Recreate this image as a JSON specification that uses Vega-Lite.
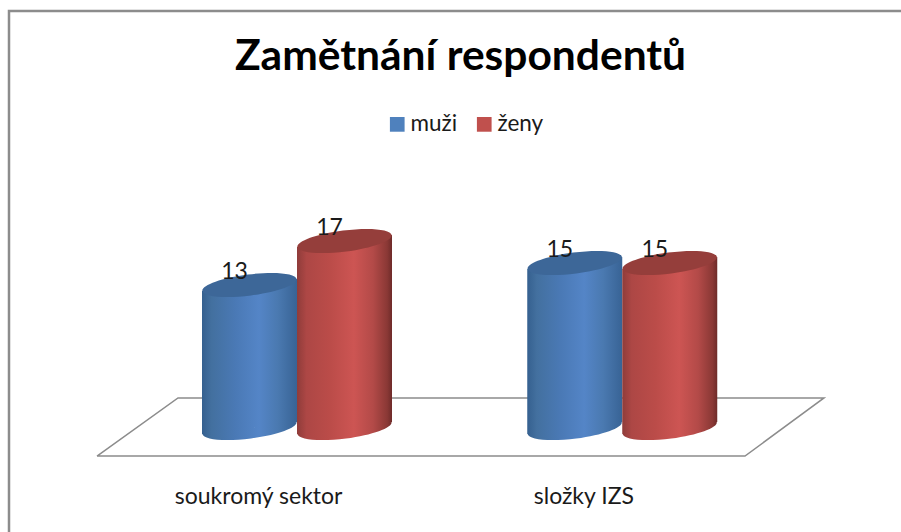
{
"$schema":"https://vega.github.io/schema/vega-lite/v6.json",
"width":895,"height":524,
"autosize":{"type":"none"},
"padding":{"left":9,"top":11,"right":0,"bottom":0},
"background":"white",
"config":{"view":{"stroke":"#8c8c8c","strokeWidth":2.5},"font":"Lato"},
"title":{"text":"Zamětnání respondentů","font":"Lato","fontWeight":"bold","fontSize":42.5,"color":"#000000","anchor":"middle","baseline":"middle","offset":-88,"dx":4},
"datasets":{
"bars":[
{"sektor":"soukromý sektor","pohlaví":"muži","počet":13},
{"sektor":"soukromý sektor","pohlaví":"ženy","počet":17},
{"sektor":"složky IZS","pohlaví":"muži","počet":15},
{"sektor":"složky IZS","pohlaví":"ženy","počet":15}],
"floor":[
{"a":97,"b":-2.55,"o":1},{"a":745,"b":-2.55,"o":2},{"a":824,"b":2.73,"o":3},{"a":178,"b":2.73,"o":4},{"a":97,"b":-2.55,"o":5}]
},
"resolve":{"scale":{"x":"independent"}},
"layer":[
{"data":{"name":"floor"},
 "mark":{"type":"line","stroke":"#8c8c8c","strokeWidth":1.5},
 "encoding":{
  "x":{"field":"a","type":"quantitative","scale":{"domain":[9,904],"nice":false,"zero":false},"axis":null},
  "y":{"field":"b","type":"quantitative","scale":{"domain":[-9.727,37.909],"nice":false,"zero":false},"axis":null},
  "order":{"field":"o"}}},
{"data":{"name":"bars"},"transform":[{"filter":"datum['pohlaví']=='muži'"}],
 "encoding":{
  "x":{"field":"sektor","type":"nominal","scale":{"type":"band","domain":["soukromý sektor","složky IZS"],"range":[125,775.5],"padding":0},"axis":null},
  "xOffset":{"field":"pohlaví","type":"nominal","scale":{"domain":["muži","ženy"],"range":[68,258],"padding":0}},
  "y":{"field":"počet","type":"quantitative","stack":null,"scale":{"domain":[-9.727,37.909],"nice":false,"zero":false},"axis":null}},
 "layer":[
  {"mark":{"type":"bar","yOffset":6,"y2Offset":-6,"fill":{"gradient":"linear","x1":0,"y1":0,"x2":1,"y2":0,"stops":[{"offset":0,"color":"#35608f"},{"offset":0.1,"color":"#43709f"},{"offset":0.35,"color":"#4a79b5"},{"offset":0.6,"color":"#5485c7"},{"offset":0.8,"color":"#4a79b0"},{"offset":1,"color":"#386395"}]}},
   "encoding":{"y2":{"datum":0}}},
  {"mark":{"type":"point","filled":true,"opacity":1,"size":9025,"shape":"M -1 -0.128 L 1 -0.128 L -1 0.128 Z M -0.992 0.128 A 1 0.223 -7.3 1 1 0.992 -0.128 A 1 0.223 -7.3 1 1 -0.992 0.128 Z","fill":{"gradient":"linear","x1":0,"y1":0,"x2":1,"y2":0,"stops":[{"offset":0,"color":"#35608f"},{"offset":0.1,"color":"#43709f"},{"offset":0.35,"color":"#4a79b5"},{"offset":0.6,"color":"#5485c7"},{"offset":0.8,"color":"#4a79b0"},{"offset":1,"color":"#386395"}]}},
   "encoding":{"y":{"datum":0,"type":"quantitative"}}},
  {"mark":{"type":"point","filled":true,"opacity":1,"size":9025,"shape":"M -1 0.128 L 1 -0.128 L 1 0.128 Z","fill":{"gradient":"linear","x1":0,"y1":0,"x2":1,"y2":0,"stops":[{"offset":0,"color":"#35608f"},{"offset":0.1,"color":"#43709f"},{"offset":0.35,"color":"#4a79b5"},{"offset":0.6,"color":"#5485c7"},{"offset":0.8,"color":"#4a79b0"},{"offset":1,"color":"#386395"}]}}},
  {"mark":{"type":"point","filled":true,"opacity":1,"size":9025,"fill":"#3d6798","shape":"M -0.992 0.128 A 1 0.223 -7.3 1 1 0.992 -0.128 A 1 0.223 -7.3 1 1 -0.992 0.128 Z"}}
 ]},
{"data":{"name":"bars"},"transform":[{"filter":"datum['pohlaví']=='ženy'"}],
 "encoding":{
  "x":{"field":"sektor","type":"nominal","scale":{"type":"band","domain":["soukromý sektor","složky IZS"],"range":[125,775.5],"padding":0},"axis":null},
  "xOffset":{"field":"pohlaví","type":"nominal","scale":{"domain":["muži","ženy"],"range":[68,258],"padding":0}},
  "y":{"field":"počet","type":"quantitative","stack":null,"scale":{"domain":[-9.727,37.909],"nice":false,"zero":false},"axis":null}},
 "layer":[
  {"mark":{"type":"bar","yOffset":6,"y2Offset":-6,"fill":{"gradient":"linear","x1":0,"y1":0,"x2":1,"y2":0,"stops":[{"offset":0,"color":"#8f3c3a"},{"offset":0.1,"color":"#ad4745"},{"offset":0.35,"color":"#bb4c49"},{"offset":0.6,"color":"#cd5553"},{"offset":0.8,"color":"#b34a48"},{"offset":0.95,"color":"#8a3835"},{"offset":1,"color":"#6e2b29"}]}},
   "encoding":{"y2":{"datum":0}}},
  {"mark":{"type":"point","filled":true,"opacity":1,"size":9025,"shape":"M -1 -0.128 L 1 -0.128 L -1 0.128 Z M -0.992 0.128 A 1 0.223 -7.3 1 1 0.992 -0.128 A 1 0.223 -7.3 1 1 -0.992 0.128 Z","fill":{"gradient":"linear","x1":0,"y1":0,"x2":1,"y2":0,"stops":[{"offset":0,"color":"#8f3c3a"},{"offset":0.1,"color":"#ad4745"},{"offset":0.35,"color":"#bb4c49"},{"offset":0.6,"color":"#cd5553"},{"offset":0.8,"color":"#b34a48"},{"offset":0.95,"color":"#8a3835"},{"offset":1,"color":"#6e2b29"}]}},
   "encoding":{"y":{"datum":0,"type":"quantitative"}}},
  {"mark":{"type":"point","filled":true,"opacity":1,"size":9025,"shape":"M -1 0.128 L 1 -0.128 L 1 0.128 Z","fill":{"gradient":"linear","x1":0,"y1":0,"x2":1,"y2":0,"stops":[{"offset":0,"color":"#8f3c3a"},{"offset":0.1,"color":"#ad4745"},{"offset":0.35,"color":"#bb4c49"},{"offset":0.6,"color":"#cd5553"},{"offset":0.8,"color":"#b34a48"},{"offset":0.95,"color":"#8a3835"},{"offset":1,"color":"#6e2b29"}]}}},
  {"mark":{"type":"point","filled":true,"opacity":1,"size":9025,"fill":"#953e3b","shape":"M -0.992 0.128 A 1 0.223 -7.3 1 1 0.992 -0.128 A 1 0.223 -7.3 1 1 -0.992 0.128 Z"}}
 ]},
{"data":{"name":"bars"},
 "mark":{"type":"text","font":"Lato","fontSize":23,"color":"#1a1a1a","dx":-15,"dy":-13,"baseline":"middle"},
 "encoding":{
  "x":{"field":"sektor","type":"nominal","scale":{"type":"band","domain":["soukromý sektor","složky IZS"],"range":[125,775.5],"padding":0},
   "axis":{"title":null,"domain":false,"ticks":false,"grid":false,"labelAngle":0,"labelFont":"Lato","labelFontSize":23,"labelColor":"#1a1a1a","labelOffset":-38,"offset":-39,"labelPadding":0,"labelBaseline":"middle"}},
  "xOffset":{"field":"pohlaví","type":"nominal","scale":{"domain":["muži","ženy"],"range":[68,258],"padding":0}},
  "y":{"field":"počet","type":"quantitative","stack":null,"scale":{"domain":[-9.727,37.909],"nice":false,"zero":false},"axis":null},
  "text":{"field":"počet","type":"quantitative"}}},
{"data":{"name":"bars"},
 "mark":{"type":"point","filled":true,"opacity":0},
 "encoding":{
  "x":{"field":"sektor","type":"nominal","scale":{"type":"band","domain":["soukromý sektor","složky IZS"],"range":[125,775.5],"padding":0},"axis":null},
  "y":{"field":"počet","type":"quantitative","scale":{"domain":[-9.727,37.909],"nice":false,"zero":false},"axis":null},
  "color":{"field":"pohlaví","type":"nominal","scale":{"domain":["muži","ženy"],"range":["#4f81bd","#c0504d"]},
   "legend":{"title":null,"orient":"none","legendX":377,"legendY":102,"direction":"horizontal","columns":2,"columnPadding":15,"labelOffset":2,"symbolType":"square","symbolSize":216,"symbolOpacity":1,"symbolStrokeWidth":0,"labelFont":"Lato","labelFontSize":22.5,"labelColor":"#1a1a1a","labelOpacity":1}}}}
]
}
